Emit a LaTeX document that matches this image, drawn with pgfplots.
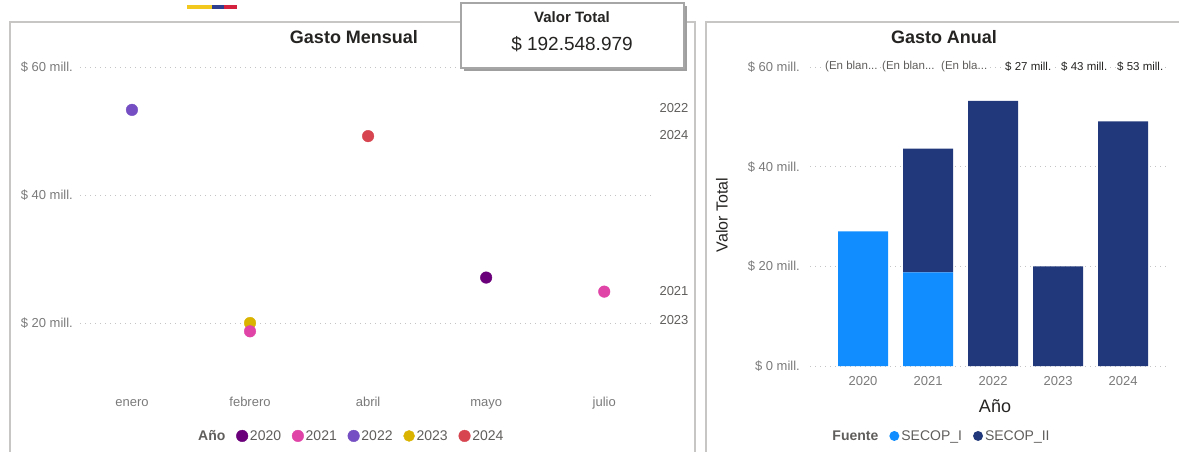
\documentclass[border=0pt]{standalone}
\usepackage{fontspec}
\setmainfont{Liberation Sans}
\usepackage{pgfplots}
\pgfplotsset{compat=1.18}
\definecolor{c2020}{HTML}{6B007B}
\definecolor{c2021}{HTML}{E044A7}
\definecolor{c2022}{HTML}{744EC2}
\definecolor{c2023}{HTML}{D9B300}
\definecolor{c2024}{HTML}{D64550}
\definecolor{secI}{HTML}{118DFF}
\definecolor{secII}{HTML}{21397A}
\definecolor{ticktxt}{HTML}{7A7A7A}
\definecolor{titletxt}{HTML}{252423}
\definecolor{legtxt}{HTML}{605E5C}
\definecolor{gridc}{HTML}{C4C4C4}
\definecolor{framec}{HTML}{C8C6C4}
\definecolor{flagY}{HTML}{F2C81E}
\definecolor{flagB}{HTML}{2E3F8F}
\definecolor{flagR}{HTML}{D4213D}
\newcommand{\fs}[1]{\fontsize{#1}{#1}\selectfont}
\begin{document}
\begin{tikzpicture}[x=1pt,y=1pt]
\path[use as bounding box] (0,0) rectangle (1179,451);
% panel frames
\draw[framec, line width=2pt] (10,-5) -- (10,429) -- (695,429) -- (695,-5);
\draw[framec, line width=2pt] (706,-5) -- (706,429) -- (1190,429);
% flag strip
\fill[flagY] (187,442) rectangle (212,446);
\fill[flagB] (212,442) rectangle (224,446);
\fill[flagR] (224,442) rectangle (237,446);
% titles
\node[font=\fs{18}\bfseries, text=titletxt] at (354,414) {Gasto Mensual};
\node[font=\fs{18}\bfseries, text=titletxt] at (944,414) {Gasto Anual};

% ---------- Left: Gasto Mensual ----------
\begin{axis}[
  at={(80pt,64pt)}, anchor=south west, scale only axis,
  width=575pt, height=332.8pt,
  xmin=-0.44, xmax=4.43, ymin=10, ymax=62,
  axis line style={draw=none}, major tick length=0pt,
  xtick={0,1,2,3,4}, xticklabels={enero,febrero,abril,mayo,julio},
  ytick={20,40,60}, yticklabels={\$ 20 mill.,\$ 40 mill.,\$ 60 mill.},
  xticklabel style={font=\fs{13}, text=ticktxt, inner sep=0pt, text height=9.5pt, text depth=2.5pt, yshift=-10pt},
  yticklabel style={font=\fs{13}, text=ticktxt, inner sep=0pt, xshift=-7pt},
  ymajorgrids, grid style={gridc, line width=1pt, dash pattern=on 1pt off 4pt},
  clip=false,
  legend image code/.code={\draw[#1] plot coordinates {(4pt,0pt)};},
  legend style={at={(0.471,-0.147)}, anchor=center, draw=none, fill=none,
    legend columns=-1, font=\fs{14}, text=legtxt, inner sep=0pt,
    /tikz/every even column/.append style={column sep=9pt}},
]
\addlegendimage{empty legend}
\addlegendentry{\textbf{Año}}
\addplot[only marks, mark=*, mark size=5.8pt, color=c2020] coordinates {(3,27.1)};
\addlegendentry{2020}
\addplot[only marks, mark=*, mark size=5.8pt, color=c2023, forget plot] coordinates {(1,20.0)};
\addplot[only marks, mark=*, mark size=5.8pt, color=c2021] coordinates {(1,18.7) (4,24.9)};
\addlegendentry{2021}
\addplot[only marks, mark=*, mark size=5.8pt, color=c2022] coordinates {(0,53.3)};
\addlegendentry{2022}
\addlegendimage{only marks, mark=*, mark size=5.5pt, color=c2023}
\addlegendentry{2023}
\addplot[only marks, mark=*, mark size=5.8pt, color=c2024] coordinates {(2,49.2)};
\addlegendentry{2024}
\node[anchor=west, font=\fs{13}, text=legtxt, xshift=1pt] at (axis cs:4.43,53.6) {2022};
\node[anchor=west, font=\fs{13}, text=legtxt, xshift=1pt] at (axis cs:4.43,49.4) {2024};
\node[anchor=west, font=\fs{13}, text=legtxt, xshift=1pt] at (axis cs:4.43,25.0) {2021};
\node[anchor=west, font=\fs{13}, text=legtxt, xshift=1pt] at (axis cs:4.43,20.5) {2023};
\end{axis}

% ---------- Right: Gasto Anual ----------
\begin{axis}[
  at={(810pt,85pt)}, anchor=south west, scale only axis,
  width=360pt, height=299pt,
  xmin=-0.815, xmax=4.72, ymin=0, ymax=60,
  ybar stacked, bar width=50pt,
  axis line style={draw=none}, major tick length=0pt,
  xtick={0,1,2,3,4}, xticklabels={2020,2021,2022,2023,2024},
  ytick={0,20,40,60}, yticklabels={\$ 0 mill.,\$ 20 mill.,\$ 40 mill.,\$ 60 mill.},
  xticklabel style={font=\fs{13}, text=ticktxt, inner sep=0pt, text height=9.5pt, text depth=2.5pt, yshift=-10pt},
  yticklabel style={font=\fs{13}, text=ticktxt, inner sep=0pt, xshift=-10pt},
  ymajorgrids, grid style={gridc, line width=1pt, dash pattern=on 1pt off 4pt},
  clip=false,
  legend style={at={(0.364,-0.234)}, anchor=center, draw=none, fill=none,
    legend columns=-1, font=\fs{14}, text=legtxt, inner sep=0pt,
    /tikz/every even column/.append style={column sep=9pt}},
]
\addlegendimage{empty legend}
\addlegendentry{\textbf{Fuente}}
\addplot[fill=secI, draw=none, legend image code/.code={\fill[secI] (4pt,0pt) circle (5pt);}]
  coordinates {(0,27.0) (1,18.8) (2,0) (3,0) (4,0)};
\addlegendentry{SECOP\_I}
\addplot[fill=secII, draw=none, legend image code/.code={\fill[secII] (4pt,0pt) circle (5pt);}]
  coordinates {(0,0) (1,24.8) (2,53.2) (3,20.0) (4,49.1)};
\addlegendentry{SECOP\_II}
\end{axis}
% axis titles right
\node[rotate=90, font=\fs{16}, text=titletxt] at (722,236) {Valor Total};
\node[font=\fs{18}, text=titletxt] at (995,45) {Año};
% data labels row
\node[anchor=west, fill=white, inner sep=1pt, font=\fs{11.5}, text=legtxt] at (824,384) {(En blan...};
\node[anchor=west, fill=white, inner sep=1pt, font=\fs{11.5}, text=legtxt] at (881,384) {(En blan...};
\node[anchor=west, fill=white, inner sep=1pt, font=\fs{11.5}, text=legtxt] at (940,384) {(En bla...};
\node[anchor=west, fill=white, inner sep=1pt, font=\fs{11.5}, text=titletxt] at (1004,384) {\$ 27 mill.};
\node[anchor=west, fill=white, inner sep=1pt, font=\fs{11.5}, text=titletxt] at (1060,384) {\$ 43 mill.};
\node[anchor=west, fill=white, inner sep=1pt, font=\fs{11.5}, text=titletxt] at (1116,384) {\$ 53 mill.};
% Valor Total card
\fill[gray!75] (464,380) rectangle (687,445);
\filldraw[fill=white, draw=gray!70, line width=1.2pt] (461,383) rectangle (684,448);
\node[font=\fs{15}\bfseries, text=titletxt] at (572,434) {Valor Total};
\node[font=\fs{19}, text=titletxt] at (572,407) {\$ 192.548.979};
\end{tikzpicture}
\end{document}
